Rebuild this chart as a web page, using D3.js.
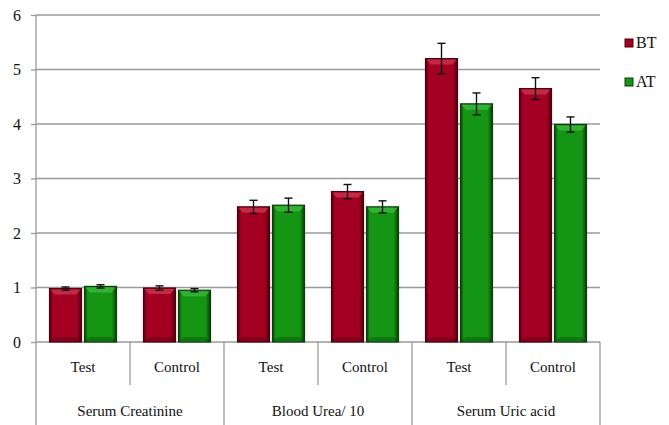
<!DOCTYPE html>
<html><head><meta charset="utf-8">
<script src="https://cdn.jsdelivr.net/npm/d3@7"></script>
<style>body{margin:0;background:#fff}svg{display:block}</style>
</head><body>
<svg id="c" width="669" height="425"></svg>
<script>
const groups = ["Serum Creatinine", "Blood Urea/ 10", "Serum Uric acid"];
const subgroups = ["Test", "Control"];
const series = ["BT", "AT"];
const btValues = [0.98, 0.99, 2.48, 2.76, 5.20, 4.65];
const atValues = [1.02, 0.95, 2.51, 2.48, 4.37, 3.99];
const btErrors = [0.03, 0.04, 0.12, 0.13, 0.28, 0.20];
const atErrors = [0.03, 0.03, 0.13, 0.11, 0.20, 0.14];
const yTicks = [0, 1, 2, 3, 4, 5, 6];
const colors = {BT: "#a30022", AT: "#149614"};
const dark = {BT: "#4a000e", AT: "#0a3f0a"};
const light = {BT: "#c8334f", AT: "#3cb83c"};
const FONT = "serif";
const FS = 15;

const svg = d3.select("#c");
const L = 36, R = 600, T = 15, B = 342;
const cells = [];
groups.forEach(g => subgroups.forEach(s => cells.push(g + "|" + s)));
const x = d3.scaleBand().domain(cells).range([L, R]).paddingInner(0).paddingOuter(0);
const xs = d3.scaleBand().domain(series).range([0, x.bandwidth()]).paddingInner(0.086).paddingOuter(0.386);
const y = d3.scaleLinear().domain([0, 6]).range([B, T]);

const defs = svg.append("defs");
series.forEach(k => {
  const gr = defs.append("linearGradient").attr("id", "g" + k).attr("x1", 0).attr("x2", 1).attr("y1", 0).attr("y2", 0);
  gr.append("stop").attr("offset", "0%").attr("stop-color", dark[k]);
  gr.append("stop").attr("offset", "10%").attr("stop-color", colors[k]);
  gr.append("stop").attr("offset", "85%").attr("stop-color", colors[k]);
  gr.append("stop").attr("offset", "100%").attr("stop-color", dark[k]);
});

svg.append("g").selectAll("line").data(yTicks.filter(d => d > 0)).join("line")
  .attr("x1", L).attr("x2", R).attr("y1", d => y(d)).attr("y2", d => y(d))
  .attr("stroke", "#9a9a9a").attr("stroke-width", 1.3);

const ya = svg.append("g").attr("transform", `translate(${L},0)`)
  .call(d3.axisLeft(y).tickValues(yTicks).tickSize(5).tickPadding(10).tickFormat(d3.format("d")));
ya.select(".domain").remove();
ya.selectAll("line").attr("stroke", "#9a9a9a").attr("stroke-width", 1.3);
ya.selectAll("text").attr("font-size", FS + 1).attr("fill", "#111").style("font-family", FONT);
svg.append("line").attr("x1", L).attr("x2", L).attr("y1", T).attr("y2", 425).attr("stroke", "#9a9a9a").attr("stroke-width", 1.3);

svg.append("line").attr("x1", L).attr("x2", R).attr("y1", B).attr("y2", B).attr("stroke", "#9a9a9a").attr("stroke-width", 1.3);
cells.forEach((c, i) => {
  const xr = x(c) + x.bandwidth();
  const major = (i % 2 === 1);
  svg.append("line").attr("x1", xr).attr("x2", xr).attr("y1", B).attr("y2", major ? 425 : 385)
    .attr("stroke", "#9a9a9a").attr("stroke-width", 1.3);
  svg.append("text").attr("x", x(c) + x.bandwidth() / 2).attr("y", 372).attr("text-anchor", "middle")
    .attr("font-size", FS).attr("fill", "#111").style("font-family", FONT).text(c.split("|")[1]);
});
groups.forEach(g => {
  const x0 = x(g + "|Test"), x1 = x(g + "|Control") + x.bandwidth();
  svg.append("text").attr("x", (x0 + x1) / 2).attr("y", 416).attr("text-anchor", "middle")
    .attr("font-size", FS).attr("fill", "#111").style("font-family", FONT).text(g);
});

const data = [];
cells.forEach((c, i) => {
  data.push({c, k: "BT", v: btValues[i], e: btErrors[i]});
  data.push({c, k: "AT", v: atValues[i], e: atErrors[i]});
});
const bars = svg.append("g");
data.forEach(d => {
  const bx = x(d.c) + xs(d.k), bw = xs.bandwidth(), by = y(d.v), bh = y(0) - y(d.v);
  bars.append("rect").attr("x", bx).attr("y", by).attr("width", bw).attr("height", bh)
    .attr("fill", `url(#g${d.k})`).attr("stroke", dark[d.k]).attr("stroke-width", 1.2);
  bars.append("path").attr("d", `M${bx+1},${by+1} L${bx+bw-1},${by+1} L${bx+bw-5},${by+6} L${bx+5},${by+6} Z`)
    .attr("fill", light[d.k]).attr("opacity", 0.8);
  bars.append("path").attr("d", `M${bx+1},${y(0)-1} L${bx+bw-1},${y(0)-1} L${bx+bw-5},${y(0)-5} L${bx+5},${y(0)-5} Z`)
    .attr("fill", dark[d.k]).attr("opacity", 0.35);
  const cx = bx + bw / 2;
  const eb = bars.append("g").attr("stroke", "#111").attr("stroke-width", 1.4);
  eb.append("line").attr("x1", cx).attr("x2", cx).attr("y1", y(d.v + d.e)).attr("y2", y(d.v - d.e));
  eb.append("line").attr("x1", cx - 4).attr("x2", cx + 4).attr("y1", y(d.v + d.e)).attr("y2", y(d.v + d.e));
  eb.append("line").attr("x1", cx - 4).attr("x2", cx + 4).attr("y1", y(d.v - d.e)).attr("y2", y(d.v - d.e));
});

const lg = svg.append("g");
series.forEach((k, i) => {
  const ly = 43 + i * 39;
  lg.append("rect").attr("x", 625).attr("y", ly - 4).attr("width", 8).attr("height", 8)
    .attr("fill", colors[k]).attr("stroke", dark[k]).attr("stroke-width", 1);
  lg.append("text").attr("x", 636).attr("y", ly + 5).attr("font-size", FS + 1).attr("fill", "#111")
    .style("font-family", FONT).text(k);
});
</script>
</body></html>
